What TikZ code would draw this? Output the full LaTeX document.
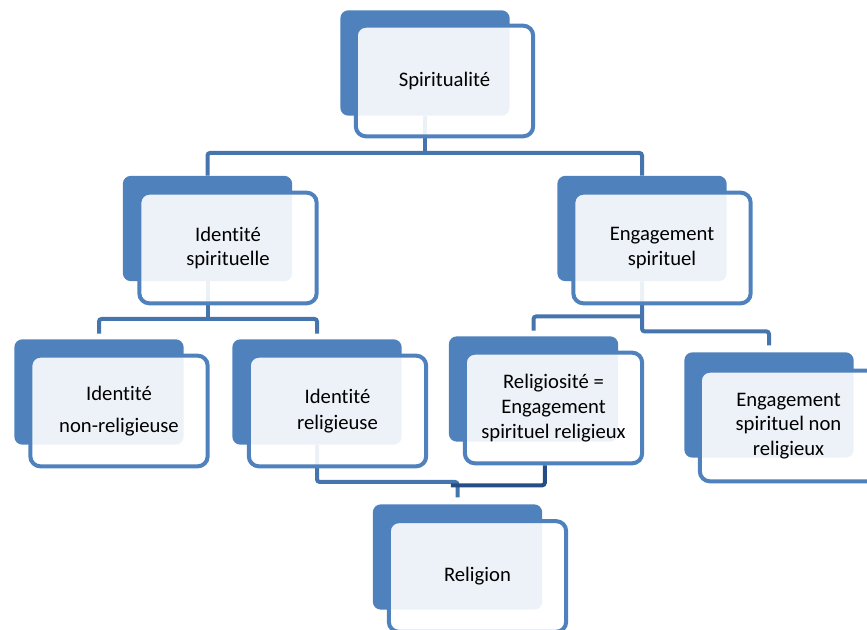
\documentclass[tikz,border=0pt]{standalone}
\usepackage{fontspec}
\setmainfont[Ligatures=NoCommon]{Carlito}
\usepackage{xcolor}
\usepackage{tikz}
\usetikzlibrary{calc, positioning}

\definecolor{boxblue}{HTML}{4F81BD}
\definecolor{lineblue}{HTML}{4674AC}
\definecolor{lineblue2}{HTML}{254E87}

\begin{document}
\begin{tikzpicture}[
            x=0.75pt, y=-0.75pt,
            shadowbox/.style={rectangle, rounded corners=6pt, fill=boxblue, minimum width=127pt, minimum height=79pt, inner sep=0pt},
            textbox/.style={rectangle, rounded corners=7.5pt, draw=boxblue, line width=3pt, fill=white, fill opacity=0.9, text opacity=1, minimum width=133pt, minimum height=83pt, inner sep=0pt, align=center, font=\fontsize{15.5}{18.5}\selectfont},
            link/.style={line width=3pt, draw=lineblue, rounded corners=2pt},
            darklink/.style={line width=3pt, draw=lineblue2, rounded corners=2pt}
        ]
        \useasboundingbox (0,0) rectangle (867,630);

        % Back boxes (manual layout to match figure)
        \node[shadowbox] (bS) at (425, 63) {};
        \node[shadowbox] (bIS) at (207.5, 228.5) {};
        \node[shadowbox] (bES) at (642, 228.5) {};
        \node[shadowbox] (bINR) at (99, 392) {};
        \node[shadowbox] (bIR) at (317, 392) {};
        \node[shadowbox] (bRE) at (533.5, 389) {};
        \node[shadowbox] (bENR) at (769, 405) {};
        \node[shadowbox] (bR) at (457.5, 557) {};

        % Links
        \draw[link] (bS.south) -- ++(0,37) coordinate (j1);
        \draw[link] (bIS.north) |- (j1) -| (bES.north);

        \draw[link] (bIS.south) -- ++(0,37.5) coordinate (j2);
        \draw[link] ([yshift=4pt]bINR.north) |- (j2) -| ([yshift=4pt]bIR.north);

        \draw[link] (bES.south) -- ++(0,35) coordinate (j3) -- ++(0,15) -| ([yshift=5pt]bENR.north);
        \draw[link] (j3) -| ([yshift=4pt]bRE.north);

        \draw[link] (bIR.south) -- ++(0,37) -| ([yshift=5pt]bR.north);

        % Front boxes
        \node[textbox] (S) at (444.5, 81) {Spiritualité};
        \node[textbox] (IS) at (228, 248) {Identité\\spirituelle};
        \node[textbox] (ES) at (662, 248) {Engagement\\spirituel};
        \node[textbox] (INR) at (119, 411) {Identité\\[6pt]non-religieuse};
        \node[textbox] (IR) at (337.5, 411) {Identité\\[1.5pt]religieuse};
        \node[textbox] (RE) at (553.5, 408) {Religiosité =\\Engagement\\spirituel religieux};
        \node[textbox] (ENR) at (788.5, 426) {Engagement\\spirituel non\\religieux};
        \node[textbox] (R) at (477.5, 576.5) {Religion};

        \draw[darklink] ([xshift=-6.5pt]RE.south) -- ++(0,20) -- ++(-94,0);

    \end{tikzpicture}
\end{document}
